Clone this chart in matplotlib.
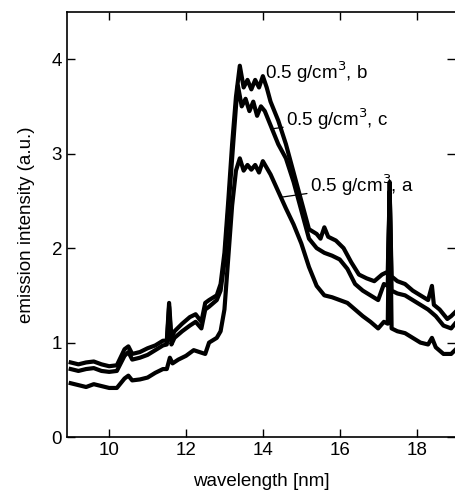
import numpy as np
import matplotlib.pyplot as plt

# Data
wl_b = [9.0, 9.2, 9.4, 9.6, 9.8, 10.0, 10.2, 10.4, 10.5, 10.6, 10.8, 11.0, 11.2, 11.4, 11.5, 11.56, 11.62,
        11.7, 11.9, 12.1, 12.25, 12.4, 12.5, 12.6, 12.8, 12.9, 13.0, 13.1, 13.2, 13.3, 13.4, 13.5, 13.6,
        13.7, 13.8, 13.9, 14.0, 14.1, 14.2, 14.4, 14.6, 14.8, 15.0, 15.2, 15.4, 15.5, 15.6, 15.7, 15.9,
        16.1, 16.3, 16.5, 16.7, 16.9, 17.1, 17.25, 17.3, 17.35, 17.5, 17.7, 17.9, 18.1, 18.3, 18.4, 18.45,
        18.6, 18.8, 18.9, 19.0]
int_b = [0.79, 0.77, 0.79, 0.8, 0.77, 0.75, 0.76, 0.93, 0.96, 0.88, 0.9, 0.94, 0.97, 1.02, 1.02, 1.42, 1.05,
         1.12, 1.2, 1.27, 1.3, 1.22, 1.42, 1.45, 1.5, 1.62, 1.95, 2.5, 3.1, 3.6, 3.93, 3.7, 3.78,
         3.68, 3.78, 3.7, 3.82, 3.7, 3.55, 3.35, 3.1, 2.8, 2.5, 2.2, 2.15, 2.1, 2.22, 2.12, 2.08,
         2.0, 1.85, 1.72, 1.68, 1.65, 1.72, 1.75, 2.6, 1.7, 1.65, 1.62, 1.55, 1.5, 1.45, 1.6, 1.4,
         1.35, 1.25, 1.28, 1.32]

wl_c = [9.0, 9.2, 9.4, 9.6, 9.8, 10.0, 10.2, 10.4, 10.5, 10.6, 10.8, 11.0, 11.2, 11.4, 11.5, 11.56, 11.62,
        11.7, 11.9, 12.1, 12.25, 12.4, 12.5, 12.6, 12.8, 12.9, 13.0, 13.1, 13.2, 13.3, 13.35, 13.45, 13.55,
        13.65, 13.75, 13.85, 13.95, 14.05, 14.2, 14.4, 14.6, 14.8, 15.0, 15.2, 15.4, 15.6, 15.8, 16.0, 16.2,
        16.4, 16.6, 16.8, 17.0, 17.15, 17.25, 17.3, 17.35, 17.5, 17.7, 17.9, 18.1, 18.3, 18.5, 18.7, 18.9,
        19.0]
int_c = [0.72, 0.7, 0.72, 0.73, 0.7, 0.69, 0.7, 0.86, 0.9, 0.82, 0.84, 0.87, 0.92, 0.97, 0.98, 1.38, 0.98,
         1.05, 1.12, 1.18, 1.22, 1.15, 1.35, 1.38, 1.45, 1.55, 1.85, 2.4, 2.95, 3.5, 3.72, 3.5, 3.58,
         3.45, 3.55, 3.4, 3.5, 3.45, 3.3, 3.1, 2.95, 2.7, 2.4, 2.1, 2.0, 1.95, 1.92, 1.88, 1.78,
         1.62, 1.55, 1.5, 1.45, 1.62, 1.6, 2.6, 1.55, 1.52, 1.5, 1.45, 1.4, 1.35, 1.28, 1.18, 1.15,
         1.2]

wl_a = [9.0, 9.2, 9.4, 9.6, 9.8, 10.0, 10.2, 10.4, 10.5, 10.6, 10.8, 11.0, 11.2, 11.4, 11.5, 11.58, 11.65,
        11.8, 12.0, 12.2, 12.35, 12.5, 12.6, 12.8, 12.9, 13.0, 13.1, 13.2, 13.3, 13.4, 13.5, 13.6, 13.7,
        13.8, 13.9, 14.0, 14.1, 14.2, 14.4, 14.6, 14.8, 15.0, 15.2, 15.4, 15.6, 15.8, 16.0, 16.2, 16.4,
        16.6, 16.8, 17.0, 17.15, 17.25, 17.3, 17.35, 17.5, 17.7, 17.9, 18.1, 18.3, 18.4, 18.5, 18.7, 18.9,
        19.0]
int_a = [0.57, 0.55, 0.53, 0.56, 0.54, 0.52, 0.52, 0.62, 0.65, 0.6, 0.61, 0.63, 0.68, 0.72, 0.72, 0.84, 0.78,
         0.82, 0.86, 0.92, 0.9, 0.88, 1.0, 1.05, 1.12, 1.35, 1.9, 2.45, 2.82, 2.95, 2.82, 2.88, 2.83,
         2.88, 2.8, 2.92, 2.85, 2.78, 2.6, 2.42, 2.25, 2.05, 1.8, 1.6, 1.5, 1.48, 1.45, 1.42, 1.35,
         1.28, 1.22, 1.15, 1.22, 1.2, 2.7, 1.15, 1.12, 1.1, 1.05, 1.0, 0.98, 1.05, 0.95, 0.88, 0.88,
         0.92]

labels = ['0.5 g/cm$^3$, b', '0.5 g/cm$^3$, c', '0.5 g/cm$^3$, a']
label_xy = [(14.06, 3.86), (14.6, 3.36), (15.22, 2.66)]
arrow_xy = [(13.98, 3.78), (14.2, 3.26), (14.5, 2.54)]

plt.rcParams['font.family'] = ['Liberation Sans', 'DejaVu Sans']

fig = plt.figure(figsize=(4.55, 4.95), dpi=100)
ax = fig.add_axes([0.147, 0.117, 0.853, 0.859])

for wl, y in [(wl_b, int_b), (wl_c, int_c), (wl_a, int_a)]:
    ax.plot(wl, y, color='black', lw=3.0, solid_joinstyle='round')

for txt, (tx, ty), (px, py) in zip(labels, label_xy, arrow_xy):
    ax.annotate(txt, xy=(px, py), xytext=(tx, ty), fontsize=13.5, va='center', ha='left',
                arrowprops=dict(arrowstyle='-', color='black', lw=0.9, shrinkA=0, shrinkB=0))

ax.set_xlim(8.9, 19.0)
ax.set_ylim(0, 4.5)
ax.set_xticks([10, 12, 14, 16, 18])
ax.set_yticks([0, 1, 2, 3, 4])
ax.tick_params(direction='in', top=True, right=True, length=6, width=1, labelsize=13.5)
ax.spines['right'].set_visible(False)
for s in ['left', 'top', 'bottom']:
    ax.spines[s].set_linewidth(1.2)
ax.set_xlabel('wavelength [nm]', fontsize=13.5, labelpad=10)
ax.set_ylabel('emission intensity (a.u.)', fontsize=13.5, labelpad=12)

fig.savefig('out.png', dpi=100)
